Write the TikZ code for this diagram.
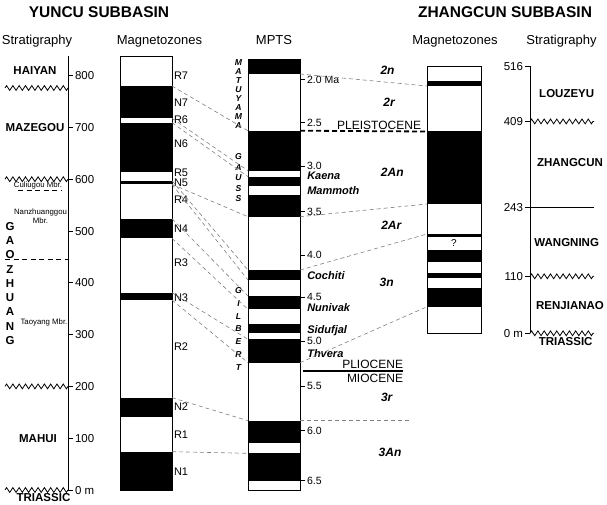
\documentclass[tikz,border=0pt]{standalone}
\usepackage{fontspec}
\setmainfont{Liberation Sans}
\usetikzlibrary{decorations.pathmorphing}

\newcommand{\fsz}[1]{\fontsize{#1}{#1}\selectfont}

\tikzset{
    every node/.style={inner sep=0pt, outer sep=0pt},
    title/.style={font=\bfseries\fsz{15.5}, text height=11.2pt, text depth=0pt},
    head/.style={font=\fsz{13}, text height=9.4pt, text depth=0pt},
    formation/.style={font=\bfseries\fsz{11.5}, text height=8.3pt, text depth=0pt},
    member/.style={font=\fsz{7.8}, text height=5.6pt, text depth=0pt},
    ticklab/.style={font=\fsz{11.5}, text height=8.3pt, text depth=0pt},
    agelab/.style={font=\fsz{10.5}, text height=7.6pt, text depth=0pt, anchor=west},
    zonelab/.style={font=\fsz{11}, text height=7.9pt, text depth=0pt, anchor=west},
    chron/.style={font=\bfseries\itshape\fsz{12}, text height=8.6pt, text depth=0pt},
    subchron/.style={font=\bfseries\itshape\fsz{11}, text height=7.9pt, text depth=0pt, anchor=west},
    polarity/.style={font=\bfseries\itshape\fsz{8.6}, text height=6.2pt, text depth=0pt},
    epoch/.style={font=\fsz{12}, text height=8.6pt, text depth=0pt, anchor=east},
    column/.style={draw, line width=0.9pt},
    axis/.style={line width=0.9pt},
    corr/.style={gray, line width=0.6pt, dash pattern=on 4pt off 3pt},
    boundary/.style={line width=0.9pt, dash pattern=on 5pt off 3.5pt},
    unconf/.style={line width=0.8pt, decorate,
        decoration={zigzag, segment length=6.3pt, amplitude=2.4pt}},
}

\begin{document}
\begin{tikzpicture}[x=1pt, y=-1pt]
    \def\mppx{0.518} % px per metre of section
    \def\yl{120} \def\yr{172} % Yuncu magnetozone column
    \def\ml{248} \def\mr{300} % MPTS column
    \def\zl{427} \def\zr{481} % Zhangcun magnetozone column
    \useasboundingbox (0,0) rectangle (607,505);

    % Titles and headings
    \node[title] (tyuncu) at (99,11.5) {YUNCU SUBBASIN};
    \node[title] (tzhang) at (505,11.5) {ZHANGCUN SUBBASIN};
    \node[head] (hstraty) at (37,40) {Stratigraphy};
    \node[head] (hmagy) at (159.5,40) {Magnetozones};
    \node[head] (hmpts) at (274,40) {MPTS};
    \node[head] (hmagz) at (455,39.5) {Magnetozones};
    \node[head] (hstratz) at (561.5,39.5) {Stratigraphy};

    % Yuncu stratigraphy
    \draw[axis] (68,56) -- (68,490);
    \foreach \m/\txt in {0/0 m,100/100,200/200,300/300,400/400,500/500,600/600,700/700,800/800} {
        \pgfmathsetmacro{\yy}{490-\mppx*\m}
        \draw[axis] (68,\yy) -- (73,\yy);
        \node[ticklab, anchor=west] (ytick\m) at (75,\yy) {\txt};
    }
    \foreach \yy in {88,179.2,386.4,490}
        \draw[unconf] (5,\yy) -- (68,\yy);
    \draw[boundary] (18,190.7) -- (62,190.7);
    \draw[boundary] (5,259.3) -- (68,259.3);

    \node[formation] (haiyan) at (35,70) {HAIYAN};
    \node[formation] (mazegou) at (35,127.7) {MAZEGOU};
    \node[member] (culiugou) at (38,185) {Culiugou Mbr.};
    \node[member] (nanzh) at (40.5,212) {Nanzhuanggou};
    \node[member] (nanzhmbr) at (40.5,221) {Mbr.};
    \foreach \ltr [count=\i from 0] in {G,A,O,Z,H,U,A,N,G}
        \node[formation] (gaoz\i) at (10,{226+14.3*\i}) {\ltr};
    \node[member] (taoyang) at (44,321.7) {Taoyang Mbr.};
    \node[formation] (mahui) at (38,438) {MAHUI};
    \node[formation] (triasy) at (43.5,497) {TRIASSIC};

    % Yuncu magnetozones
    \foreach \n/\t/\b in {N7/86/118.3, N6/122.7/172.3, N5/180.7/184.3, N4/218.7/238.3, N3/292.7/300, N2/397.7/416.7, N1/451.7/490} {
        \fill (\yl,\t) rectangle (\yr,\b);
        \coordinate (\n-t) at (\yr,\t);
        \coordinate (\n-b) at (\yr,\b);
    }
    \draw[column] (\yl,56.7) rectangle (\yr,490);
    \foreach \n/\yy in {R7/75.5, N7/103, R6/119.5, N6/144, R5/173, N5/183, R4/200, N4/229, R3/263, N3/297.7, R2/346.7, N2/406.7, R1/435, N1/471.7}
        \node[zonelab] (lab\n) at (174,\yy) {\n};

    % MPTS
    \foreach \n/\t/\b in {olduvai/59/74, gaussA/130.7/170.7, gaussB/176.7/186, gaussC/195/216.7, cochiti/270/280, nunivak/296/309.3, sidufjal/324.3/333.3, thvera/339.3/362.7, anA/420.7/442.7, anB/453.3/480.7} {
        \fill (\ml,\t) rectangle (\mr,\b);
        \coordinate (\n-tl) at (\ml,\t);
        \coordinate (\n-bl) at (\ml,\b);
        \coordinate (\n-tr) at (\mr,\t);
        \coordinate (\n-br) at (\mr,\b);
    }
    \draw[column] (\ml,59) rectangle (\mr,490);
    \foreach \a/\yy [count=\k] in {2.0 Ma/79.3, 2.5/122.3, 3.0/166, 3.5/211.3, 4.0/255, 4.5/297, 5.0/341, 5.5/386, 6.0/430.7, 6.5/480.7} {
        \draw[axis] (\mr,\yy) -- ++(5,0);
        \node[agelab] (age\k) at (307,\yy) {\a};
    }
    \foreach \ltr [count=\i from 0] in {M,A,T,U,Y,A,M,A}
        \node[polarity] (matu\i) at (238.5,{62+9*\i}) {\ltr};
    \foreach \ltr [count=\i from 0] in {G,A,U,S,S}
        \node[polarity] (gaus\i) at (238.5,{156.7+10.4*\i}) {\ltr};
    \foreach \ltr [count=\i from 0] in {G,I,L,B,E,R,T}
        \node[polarity] (gilb\i) at (238.5,{290.7+12.7*\i}) {\ltr};
    \foreach \s/\yy in {Kaena/176, Mammoth/191, Cochiti/276, Nunivak/307.5, Sidufjal/329.3, Thvera/354}
        \node[subchron] (sub\s) at (307.3,\yy) {\s};
    \foreach \c/\xx/\yy in {2n/387.5/70.7, 2r/389/102.7, 2An/392.3/171.7, 2Ar/391.3/225, 3n/386.7/281.7, 3r/386.7/397.3, 3An/390/451.7}
        \node[chron] (chron\c) at (\xx,\yy) {\c};

    % Zhangcun magnetozones
    \foreach \n/\t/\b in {z1/81/86, z2/131.5/204, z3/234/236.7, z4/250/261.7, z5/272.7/278.3, z6/288.3/306.7} {
        \fill (\zl,\t) rectangle (\zr,\b);
        \coordinate (\n-t) at (\zl,\t);
        \coordinate (\n-b) at (\zl,\b);
    }
    \draw[column] (\zl,66.7) rectangle (\zr,333.3);
    \node[font=\fsz{10}] (query) at (454,243.5) {?};

    % Zhangcun stratigraphy
    \draw[axis] (530,66) -- (530,333.3);
    \foreach \m/\txt in {0/0 m,110/110,243/243,409/409,516/516} {
        \pgfmathsetmacro{\yy}{333.3-\mppx*\m}
        \draw[axis] (525,\yy) -- (530,\yy);
        \node[ticklab, anchor=east] (ztick\m) at (523,\yy) {\txt};
    }
    \foreach \m in {0,110,409}
        \draw[unconf] (530,{333.3-\mppx*\m}) -- (594,{333.3-\mppx*\m});
    \draw[axis] (530,{333.3-\mppx*243}) -- (594,{333.3-\mppx*243});
    \node[formation] (louzeyu) at (566.7,93.3) {LOUZEYU};
    \node[formation] (zhangcun) at (570,162.3) {ZHANGCUN};
    \node[formation] (wangning) at (566.7,242.7) {WANGNING};
    \node[formation] (renjianao) at (570,305) {RENJIANAO};
    \node[formation] (triasz) at (565.7,341) {TRIASSIC};

    % Correlations Yuncu -> MPTS
    \foreach \src/\dst in {N7-t/gaussA-tl, N7-b/gaussA-bl, N6-t/gaussB-tl, N5-b/gaussC-bl, N5-t/cochiti-tl, N5-b/cochiti-bl, N4-t/nunivak-tl, N4-b/nunivak-bl, N3-t/thvera-tl, N3-b/thvera-bl, N2-t/anA-tl, N1-t/anB-tl}
        \draw[corr] (\src) -- (\dst);
    % Correlations MPTS -> Zhangcun
    \coordinate (anend) at (410,420.7);
    \foreach \src/\dst in {olduvai-br/z1-b, gaussC-br/z2-b, cochiti-tr/z3-t, thvera-br/z6-b, anA-tr/anend}
        \draw[corr] (\src) -- (\dst);

    % Epoch boundaries
    \draw[line width=1.8pt, dash pattern=on 5pt off 3pt] (gaussA-tr) -- (z2-t);
    \node[epoch] (pleist) at (421,125) {PLEISTOCENE};
    \coordinate (pmleft) at (303,371);
    \coordinate (pmright) at (403,371);
    \draw[line width=2pt] (pmleft) -- (pmright);
    \node[epoch] (plio) at (403,364.3) {PLIOCENE};
    \node[epoch] (mio) at (403,378.5) {MIOCENE};
\end{tikzpicture}
\end{document}
